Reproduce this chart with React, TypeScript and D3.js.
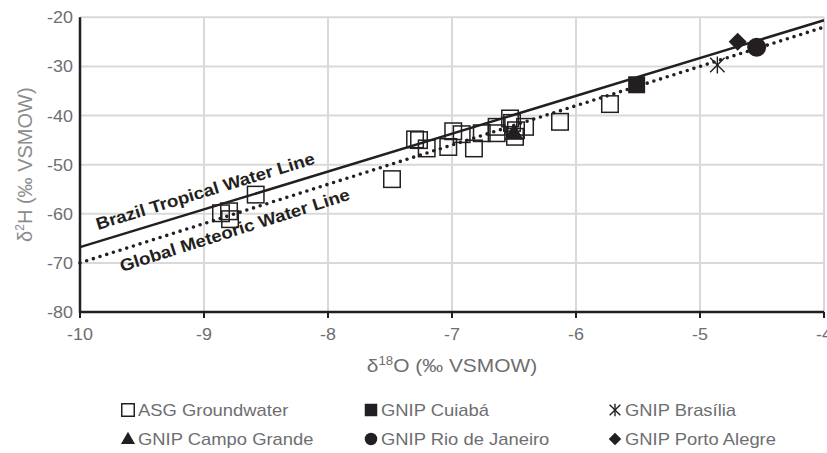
import React from "react";
import * as d3 from "d3";

// ---- data ----
const xTicks = [-10, -9, -8, -7, -6, -5, -4];
const yTicks = [-80, -70, -60, -50, -40, -30, -20];

const asgO = [-8.863, -8.798, -8.79, -8.583, -7.484, -7.298, -7.266, -7.204, -7.03, -6.99, -6.922, -6.823, -6.76, -6.64, -6.64, -6.532, -6.516, -6.492, -6.484, -6.411, -6.129, -5.726];
const asgH = [-59.9, -59.5, -61.1, -56.1, -52.95, -44.86, -45.0, -46.7, -46.4, -43.2, -43.8, -46.7, -43.6, -43.6, -42.3, -40.6, -41.5, -44.33, -43.0, -42.3, -41.28, -37.67];

const cuiaba = { o: -5.511, h: -33.74 };
const brasilia = { o: -4.86, h: -29.72 };
const campoGrande = { o: -6.5, h: -43.6 };
const rio = { o: -4.543, h: -26.11 };
const portoAlegre = { o: -4.696, h: -24.97 };

// lines: dH = slope * dO + intercept
const btwl = { slope: 7.7, intercept: 10.2, label: "Brazil Tropical Water Line" };
const gmwl = { slope: 8, intercept: 10, label: "Global Meteoric Water Line" };

const legendItems = [
  { key: "asg", label: "ASG Groundwater" },
  { key: "cuiaba", label: "GNIP Cuiabá" },
  { key: "brasilia", label: "GNIP Brasília" },
  { key: "campo", label: "GNIP Campo Grande" },
  { key: "rio", label: "GNIP Rio de Janeiro" },
  { key: "porto", label: "GNIP Porto Alegre" },
];

const INK = "#231f20";
const GREY_TXT = "#6d6e71";
const FONT = "'Liberation Sans', Arial, Helvetica, sans-serif";

function Marker({ kind, cx, cy, s }: { kind: string; cx: number; cy: number; s: number }) {
  const h = s / 2;
  switch (kind) {
    case "asg":
      return <rect x={cx - h} y={cy - h} width={s} height={s} fill="none" stroke={INK} strokeWidth={1.5} />;
    case "cuiaba":
      return <rect x={cx - h} y={cy - h} width={s} height={s} fill={INK} />;
    case "brasilia": {
      const a = h * 0.85;
      return (
        <g stroke={INK} strokeWidth={1.4}>
          <line x1={cx - a} y1={cy - a} x2={cx + a} y2={cy + a} />
          <line x1={cx - a} y1={cy + a} x2={cx + a} y2={cy - a} />
          <line x1={cx} y1={cy - h} x2={cx} y2={cy + h} />
        </g>
      );
    }
    case "campo": {
      const sym = d3.symbol(d3.symbolTriangle, s * s * 0.55)();
      return <path d={sym!} transform={`translate(${cx},${cy + 1})`} fill={INK} />;
    }
    case "rio":
      return <circle cx={cx} cy={cy} r={h} fill={INK} />;
    case "porto":
      return (
        <path
          d={`M${cx},${cy - h} L${cx + h},${cy} L${cx},${cy + h} L${cx - h},${cy} Z`}
          fill={INK}
        />
      );
  }
  return null;
}

export default function App() {
  const W = 827, H = 453;
  const x = d3.scaleLinear().domain([-10, -4]).range([80, 824]);
  const y = d3.scaleLinear().domain([-80, -20]).range([312, 17.3]);

  const lineFor = (l: { slope: number; intercept: number }) =>
    d3
      .line<number>()
      .x((d) => x(d))
      .y((d) => y(l.slope * d + l.intercept))([-10, -4])!;

  const angleFor = (l: { slope: number; intercept: number }) => {
    const dx = x(-4) - x(-10);
    const dy = y(l.slope * -4 + l.intercept) - y(l.slope * -10 + l.intercept);
    return (Math.atan2(dy, dx) * 180) / Math.PI;
  };

  const btAngle = angleFor(btwl);
  const gmAngle = angleFor(gmwl);

  const legendCols = [128, 371, 615];
  const legendRows = [410, 439];

  return (
    <svg
      width={W}
      height={H}
      style={{ position: "absolute", left: 0, top: 0, background: "#fff" }}
      fontFamily={FONT}
    >
      {/* grid */}
      <g stroke="#d9d9d9" strokeWidth={2}>
        {xTicks.map((t) => (
          <line key={"gx" + t} x1={x(t)} x2={x(t)} y1={y(-20)} y2={y(-80)} />
        ))}
        {yTicks.map((t) => (
          <line key={"gy" + t} x1={x(-10)} x2={x(-4)} y1={y(t)} y2={y(t)} />
        ))}
      </g>

      {/* axes */}
      <line x1={x(-10)} x2={x(-10)} y1={y(-20)} y2={y(-80) + 1} stroke={INK} strokeWidth={2.5} />
      <line x1={x(-10) - 1} x2={x(-4)} y1={y(-80)} y2={y(-80)} stroke={INK} strokeWidth={2.5} />
      {xTicks.map((t) => (
        <line key={"tx" + t} x1={x(t)} x2={x(t)} y1={y(-80)} y2={y(-80) + 6} stroke={INK} strokeWidth={2} />
      ))}

      {/* tick labels */}
      {xTicks.map((t) => (
        <g key={"lx" + t} transform={`translate(${x(t)},${y(-80) + 28}) scale(1.12,1)`}>
          <text textAnchor="middle" fontSize={16} fill={GREY_TXT}>
            {t}
          </text>
        </g>
      ))}
      {yTicks.map((t) => (
        <g key={"ly" + t} transform={`translate(73,${y(t) + 6}) scale(1.12,1)`}>
          <text textAnchor="end" fontSize={16} fill={GREY_TXT}>
            {t}
          </text>
        </g>
      ))}

      {/* axis titles */}
      <g transform={`translate(${(x(-10) + x(-4)) / 2},372) scale(1.1,1)`}>
        <text textAnchor="middle" fontSize={19} fill={GREY_TXT}>
          δ<tspan fontSize={12} dy={-7}>18</tspan>
          <tspan dy={7}>O (‰ VSMOW)</tspan>
        </text>
      </g>
      <g transform={`translate(32,${(y(-20) + y(-80)) / 2}) rotate(-90)`}>
        <text textAnchor="middle" fontSize={20} fill="#8a8c8f">
          δ<tspan fontSize={12} dy={-8}>2</tspan>
          <tspan dy={8}>H (‰ VSMOW)</tspan>
        </text>
      </g>

      {/* reference lines */}
      <path d={lineFor(btwl)} stroke={INK} strokeWidth={2.5} fill="none" />
      <path
        d={lineFor(gmwl)}
        stroke={INK}
        strokeWidth={3.6}
        strokeDasharray="0 7"
        strokeLinecap="round"
        fill="none"
      />

      {/* line labels */}
      <g transform={`translate(98,230) rotate(${btAngle}) scale(1.1,1)`}>
        <text fontSize={17} fontWeight="bold" fill={INK}>
          {btwl.label}
        </text>
      </g>
      <g transform={`translate(122,272) rotate(${gmAngle}) scale(1.1,1)`}>
        <text fontSize={17} fontWeight="bold" fill={INK}>
          {gmwl.label}
        </text>
      </g>

      {/* data */}
      {asgO.map((o, i) => (
        <Marker key={"a" + i} kind="asg" cx={x(o)} cy={y(asgH[i])} s={16.5} />
      ))}
      <Marker kind="campo" cx={x(campoGrande.o)} cy={y(campoGrande.h)} s={17} />
      <Marker kind="cuiaba" cx={x(cuiaba.o)} cy={y(cuiaba.h)} s={17} />
      <Marker kind="brasilia" cx={x(brasilia.o)} cy={y(brasilia.h)} s={17} />
      <Marker kind="porto" cx={x(portoAlegre.o)} cy={y(portoAlegre.h)} s={18} />
      <Marker kind="rio" cx={x(rio.o)} cy={y(rio.h)} s={19} />

      {/* legend */}
      {legendItems.map((it, i) => {
        const cx = legendCols[i % 3];
        const cy = legendRows[Math.floor(i / 3)];
        return (
          <g key={it.key}>
            <Marker kind={it.key} cx={cx} cy={cy} s={12.5} />
            <g transform={`translate(${cx + 10},${cy + 6}) scale(1.15,1)`}>
              <text fontSize={16} fill={GREY_TXT}>
                {it.label}
              </text>
            </g>
          </g>
        );
      })}
    </svg>
  );
}
